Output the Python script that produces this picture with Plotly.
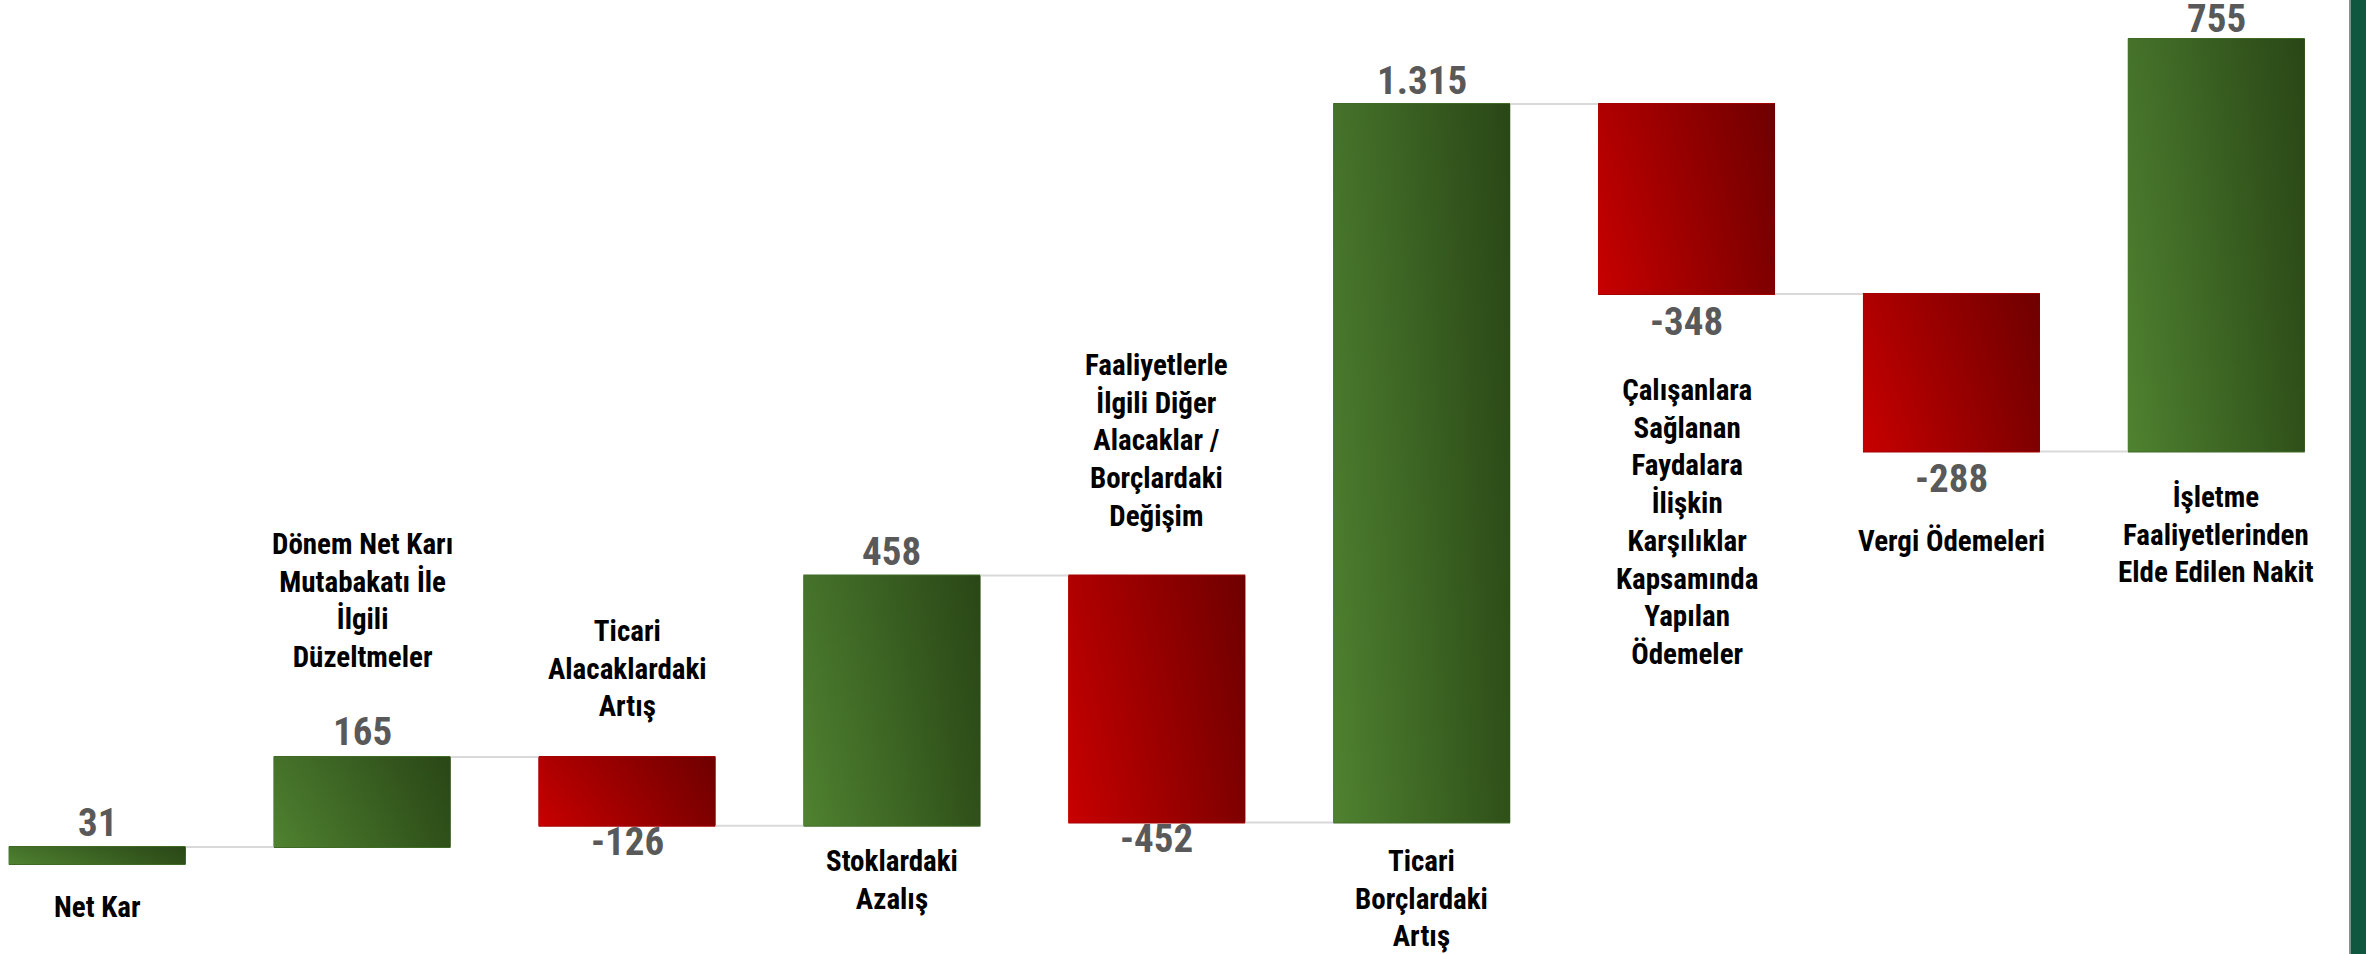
import numpy as np
import plotly.graph_objects as go

# ---------------- data ----------------
categories = [
    "Net Kar",
    "Dönem Net Karı<br>Mutabakatı İle<br>İlgili<br>Düzeltmeler",
    "Ticari<br>Alacaklardaki<br>Artış",
    "Stoklardaki<br>Azalış",
    "Faaliyetlerle<br>İlgili Diğer<br>Alacaklar /<br>Borçlardaki<br>Değişim",
    "Ticari<br>Borçlardaki<br>Artış",
    "Çalışanlara<br>Sağlanan<br>Faydalara<br>İlişkin<br>Karşılıklar<br>Kapsamında<br>Yapılan<br>Ödemeler",
    "Vergi Ödemeleri",
    "İşletme<br>Faaliyetlerinden<br>Elde Edilen Nakit",
]
values = [31, 165, -126, 458, -452, 1315, -348, -288, 755]
value_labels = ["31", "165", "-126", "458", "-452", "1.315", "-348", "-288", "755"]

# ---------------- layout helpers (positions / styles) ----------------
W, H = 2366, 954
FONT = "Liberation Sans Narrow, Arial Narrow, Roboto Condensed, sans-serif"
BAR_W = 0.668
X_RANGE = [-0.367, 8.565]
Y_RANGE = [-164.7, 1581.3]
# category label: (side, pixel offset of label centre from bar edge)
label_place = [("below", 43), ("above", 156), ("above", 88), ("below", 54),
               ("above", 135), ("below", 76), ("below", 228), ("below", 90),
               ("below", 83)]
# value label: pixel offset of label centre from bar end (above for +, below for -)
value_off = [24, 25, 16, 24, 17, 23, 28, 28, 20]

GREEN = ["#4f8230", "#2f5019"]
RED = ["#c80000", "#7e0000"]

x = np.arange(len(values))
ends = np.cumsum(values)
starts = ends - np.array(values)

fig = go.Figure()

fig.add_trace(go.Waterfall(
    x=x, y=values, measure=["relative"] * len(values),
    width=BAR_W, textinfo="none",
    increasing=dict(marker=dict(color="#3f6a26")),
    decreasing=dict(marker=dict(color="#a30000")),
    connector=dict(line=dict(color="#d9d9d9", width=2)),
    cliponaxis=False, hoverinfo="skip", showlegend=False,
))

# gradient overlays on each bar
for i, (s, e, v) in enumerate(zip(starts, ends, values)):
    cols = GREEN if v >= 0 else RED
    x0, x1 = i - BAR_W / 2, i + BAR_W / 2
    fig.add_trace(go.Scatter(
        x=[x0, x1, x1, x0, x0], y=[s, s, e, e, s],
        mode="lines", line=dict(width=0), fill="toself",
        fillgradient=dict(type="horizontal",
                          colorscale=[[0, cols[0]], [1, cols[1]]]),
        hoverinfo="skip", showlegend=False,
    ))
    fig.add_trace(go.Scatter(
        x=[x0, x1, x1, x0, x0], y=[s, s, e, e, s],
        mode="lines", line=dict(width=0), fill="toself",
        fillgradient=dict(type="vertical",
                          colorscale=[[0, "rgba(0,0,0,0)"], [1, "rgba(0,0,0,0.12)"]]),
        hoverinfo="skip", showlegend=False,
    ))

annotations = []
for i, (lab, (side, off)) in enumerate(zip(categories, label_place)):
    top = max(starts[i], ends[i])
    bot = min(starts[i], ends[i])
    annotations.append(dict(
        x=i, y=top if side == "above" else bot, xref="x", yref="y",
        text=lab, showarrow=False, align="center",
        xanchor="center", yanchor="middle",
        yshift=off if side == "above" else -off,
        font=dict(family=FONT, size=29, color="#000000", weight="bold"),
    ))
    v = values[i]
    annotations.append(dict(
        x=i, y=ends[i], xref="x", yref="y",
        text=value_labels[i], showarrow=False,
        xanchor="center", yanchor="middle",
        yshift=value_off[i] if v >= 0 else -value_off[i],
        font=dict(family=FONT, size=39, color="#595959", weight="bold"),
    ))

fig.update_layout(
    width=W, height=H,
    margin=dict(l=0, r=0, t=0, b=0),
    paper_bgcolor="white", plot_bgcolor="white",
    xaxis=dict(visible=False, range=X_RANGE),
    yaxis=dict(visible=False, range=Y_RANGE),
    showlegend=False,
    annotations=annotations,
    shapes=[
        dict(type="rect", xref="paper", yref="paper",
             x0=2349 / W, x1=2351 / W, y0=0, y1=1,
             fillcolor="#6f9a89", line=dict(width=0), layer="above"),
        dict(type="rect", xref="paper", yref="paper",
             x0=2351 / W, x1=1, y0=0, y1=1,
             fillcolor="#10573f", line=dict(width=0), layer="above"),
    ],
)

fig.write_html(
    "out.html",
    config={"displayModeBar": False},
    post_script="document.body.style.margin='0';document.body.style.overflow='hidden';",
)
